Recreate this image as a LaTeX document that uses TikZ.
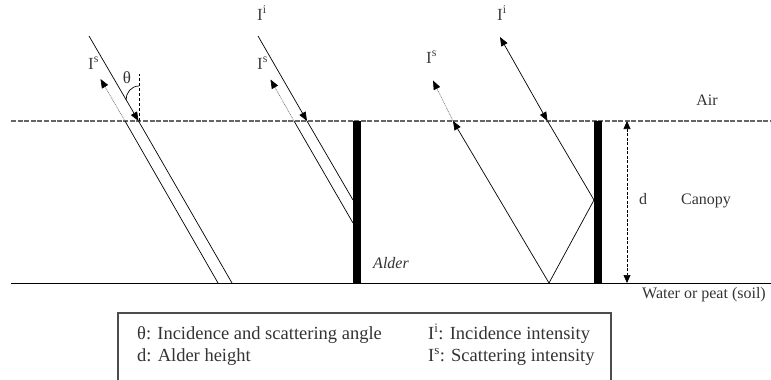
\documentclass[tikz,border=0pt]{standalone}
\usepackage{fontspec}
\setmainfont{Liberation Serif}
\usetikzlibrary{arrows.meta}
\tikzset{
  lbl/.style={text=black!80, inner sep=0pt, font=\fontsize{16}{19}\selectfont},
  ilbl/.style={text=black!75, inner sep=0pt, anchor=base west, font=\fontsize{17}{20}\selectfont},
  leg/.style={text=black!80, inner sep=0pt, anchor=base west, font=\fontsize{18.5}{22}\selectfont},
  ray/.style={line width=0.7pt, black},
  scat/.style={line width=0.6pt, black!55, dash pattern=on 1pt off 0.7pt},
  tip/.style={-{Triangle[length=9pt,width=7pt,black]}},
  iface/.style={line width=1.4pt, black!60, dash pattern=on 5pt off 1.6pt},
  trunk/.style={fill=black, draw=none}
}
\begin{document}
\begin{tikzpicture}[x=1pt,y=-1pt]
\useasboundingbox (0,0) rectangle (771,380);
% layers
\coordinate (ifL) at (11,121); \coordinate (ifR) at (771,121);
\coordinate (gL) at (11,283); \coordinate (gR) at (771,283);
\draw[iface] (ifL) -- (ifR);
\draw[line width=1pt] (gL) -- (gR);
% trunks
\fill[trunk] (353,121) rectangle (360.5,283);
\fill[trunk] (594,121) rectangle (601.5,283);
% group 1
\coordinate (a1) at (89,36); \coordinate (a2) at (138.5,121); \coordinate (a3) at (232,283);
\draw[ray,tip] (a1) -- (a2);
\draw[ray] (a2) -- (a3);
\coordinate (b1) at (218,283); \coordinate (b2) at (125,121); \coordinate (b3) at (100.5,79);
\draw[ray] (b1) -- (b2);
\draw[scat,tip] (b2) -- (b3);
\coordinate (v1) at (139,121); \coordinate (v2) at (139,74);
\draw[line width=0.8pt, dash pattern=on 3pt off 2pt] (v1) -- (v2);
\coordinate (arcA) at (139,86); \coordinate (arcB) at (126,100);
\draw[line width=0.7pt] (arcA) .. controls (131,86) and (126,93) .. (arcB);
\node[lbl, font=\fontsize{17}{20}\selectfont] (theta) at (127,78) {θ};
\node[ilbl] (is1) at (88,69) {I\textsuperscript{s}};
% group 2
\coordinate (c1) at (258,36); \coordinate (c2) at (307,121); \coordinate (c3) at (353,200);
\draw[ray,tip] (c1) -- (c2);
\draw[ray] (c2) -- (c3);
\coordinate (d1) at (353,223); \coordinate (d2) at (294,121); \coordinate (d3) at (270.5,79.5);
\draw[ray] (d1) -- (d2);
\draw[scat,tip] (d2) -- (d3);
\node[ilbl] (ii2) at (257,20) {I\textsuperscript{i}};
\node[ilbl] (is2) at (257,69) {I\textsuperscript{s}};
% group 3
\coordinate (e1) at (500,37); \coordinate (e2) at (547.5,121); \coordinate (e3) at (594,200);
\draw[ray,{Triangle[length=9pt,width=7pt]}-{Triangle[length=9pt,width=7pt]}] (e1) -- (e2);
\draw[ray] (e2) -- (e3);
\coordinate (f1) at (549,283); \coordinate (f2) at (453,121); \coordinate (f3) at (433,80.5);
\draw[ray] (e3) -- (f1);
\draw[ray,tip] (f1) -- (f2);
\draw[scat,tip] (f2) -- (f3);
\node[ilbl] (is3) at (426,63) {I\textsuperscript{s}};
\node[ilbl] (ii3) at (497,20) {I\textsuperscript{i}};
% height arrow
\coordinate (h1) at (627,121); \coordinate (h2) at (627,283);
\draw[line width=0.7pt, dash pattern=on 3pt off 1.5pt, {Triangle[length=8pt,width=7pt]}-{Triangle[length=8pt,width=7pt]}] (h1) -- (h2);
% labels
\node[lbl, anchor=base] (air) at (707,105) {Air};
\node[lbl, anchor=base] (dl) at (643,204) {d};
\node[lbl, anchor=base] (can) at (706,204) {Canopy};
\node[lbl, anchor=base, font=\fontsize{16}{19}\selectfont\itshape] (alder) at (391,268) {Alder};
\node[lbl, anchor=base] (soil) at (704,298) {Water or peat (soil)};
% legend
\coordinate (L1) at (118,380); \coordinate (L2) at (118,313); \coordinate (L3) at (611,313); \coordinate (L4) at (611,380);
\draw[line width=1.2pt, black!70] (L1) -- (L2) -- (L3) -- (L4);
\node[leg] (lg1) at (137,339) {θ: Incidence and scattering angle};
\node[leg] (lg2) at (137,361) {d: Alder height};
\node[leg] (lg3) at (428,339) {I\textsuperscript{i}: Incidence intensity};
\node[leg] (lg4) at (428,361) {I\textsuperscript{s}: Scattering intensity};
\end{tikzpicture}
\end{document}
